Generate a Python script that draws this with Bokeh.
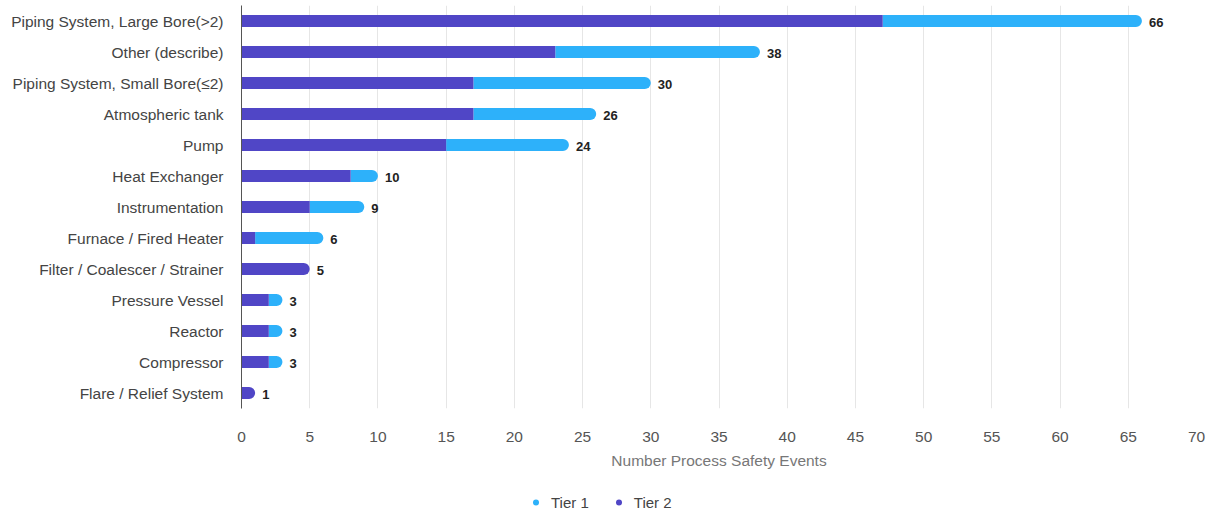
from bokeh.plotting import figure
from bokeh.layouts import column
from bokeh.models import ColumnDataSource, Legend, LegendItem, FactorRange, FixedTicker, CDSView, BooleanFilter
from bokeh.core.properties import value
from bokeh.embed import file_html
from bokeh.resources import INLINE

categories = [
    "Piping System, Large Bore(>2)",
    "Other (describe)",
    "Piping System, Small Bore(≤2)",
    "Atmospheric tank",
    "Pump",
    "Heat Exchanger",
    "Instrumentation",
    "Furnace / Fired Heater",
    "Filter / Coalescer / Strainer",
    "Pressure Vessel",
    "Reactor",
    "Compressor",
    "Flare / Relief System",
]
tier2 = [47, 23, 17, 17, 15, 8, 5, 1, 5, 2, 2, 2, 1]
tier1 = [19, 15, 13, 9, 9, 2, 4, 5, 0, 1, 1, 1, 0]
x_ticks = list(range(0, 75, 5))
series_names = ["Tier 1", "Tier 2"]

TIER1_COLOR = "#2DB1FA"
TIER2_COLOR = "#5046C6"
FONT = "Liberation Sans"
FS = "15.5px"

totals = [a + b for a, b in zip(tier1, tier2)]
src = ColumnDataSource(dict(cat=categories, t1=tier1, t2=tier2, total=totals,
                            lbl=[str(t) for t in totals]))

p = figure(frame_width=955, frame_height=403, output_backend="svg", toolbar_location=None,
           y_range=FactorRange(*reversed(categories)), x_range=(0, 70),
           min_border_left=241, min_border_right=12, min_border_top=5,
           min_border_bottom=80)
p.y_range.range_padding = 0
p.outline_line_color = None

has_t1 = [t > 0 for t in tier1]
no_t1 = [not h for h in has_t1]

# tier 1 segments (rounded right end)
p.hbar(y="cat", left="t2", right="total", height=0.39, source=src,
       view=CDSView(filter=BooleanFilter(has_t1)),
       fill_color=TIER1_COLOR, line_color=None, border_radius=(0, 6, 6, 0))
# tier 2 segments: square where tier 1 follows
p.hbar(y="cat", left=0, right="t2", height=0.39, source=src,
       view=CDSView(filter=BooleanFilter(has_t1)),
       fill_color=TIER2_COLOR, line_color=None)
# tier 2 segments that end the bar (rounded)
p.hbar(y="cat", left=0, right="t2", height=0.39, source=src,
       view=CDSView(filter=BooleanFilter(no_t1)),
       fill_color=TIER2_COLOR, line_color=None, border_radius=(0, 6, 6, 0))

p.text(x="total", y="cat", text="lbl", source=src, x_offset=7, y_offset=1,
       text_align="left", text_baseline="middle", text_font=value(FONT),
       text_font_size="13px", text_font_style="bold", text_color="#222222")

# x axis
p.xaxis.ticker = FixedTicker(ticks=x_ticks)
p.xaxis.axis_line_color = None
p.xaxis.major_tick_line_color = None
p.xaxis.minor_tick_line_color = None
p.xaxis.major_label_standoff = 17
p.xaxis.major_label_text_font = FONT
p.xaxis.major_label_text_font_size = FS
p.xaxis.major_label_text_color = "#555555"
p.xaxis.axis_label = "Number Process Safety Events"
p.xaxis.axis_label_text_font = FONT
p.xaxis.axis_label_text_font_size = FS
p.xaxis.axis_label_text_font_style = "normal"
p.xaxis.axis_label_text_color = "#777777"
p.xaxis.axis_label_standoff = 7

# y axis
p.yaxis.axis_line_color = "#555555"
p.yaxis.major_tick_line_color = None
p.yaxis.minor_tick_line_color = None
p.yaxis.major_label_standoff = 12
p.yaxis.major_label_text_font = FONT
p.yaxis.major_label_text_font_size = FS
p.yaxis.major_label_text_color = "#444444"

p.xgrid.grid_line_color = "#E6E6E6"
p.ygrid.grid_line_color = None

# legend strip below the chart; its renderers' points lie outside the strip's ranges
lg = figure(width=1208, height=27, output_backend="svg", toolbar_location=None,
            x_range=(0, 1), y_range=(0, 1),
            x_axis_location=None, y_axis_location=None,
            min_border_left=0, min_border_right=0, min_border_top=0, min_border_bottom=0)
lg.outline_line_color = None
lg.grid.visible = False
leg_src = ColumnDataSource(dict(x=[-5], y=[-5]))
r1 = lg.scatter(x="x", y="y", source=leg_src, marker="circle", size=15,
                fill_color=TIER1_COLOR, line_color=None)
r2 = lg.scatter(x="x", y="y", source=leg_src, marker="circle", size=15,
                fill_color=TIER2_COLOR, line_color=None)
legend = Legend(items=[LegendItem(label=series_names[0], renderers=[r1]),
                       LegendItem(label=series_names[1], renderers=[r2])],
                orientation="horizontal", location="left",
                border_line_color=None, background_fill_alpha=0,
                label_text_font=FONT, label_text_font_size="15px",
                label_text_color="#444444", glyph_width=15, glyph_height=15,
                label_height=15, label_standoff=8, spacing=22, margin=287, padding=0)
lg.add_layout(legend, "center")

layout = column(p, lg, spacing=0)
open("out.html", "w").write(file_html(layout, INLINE))
